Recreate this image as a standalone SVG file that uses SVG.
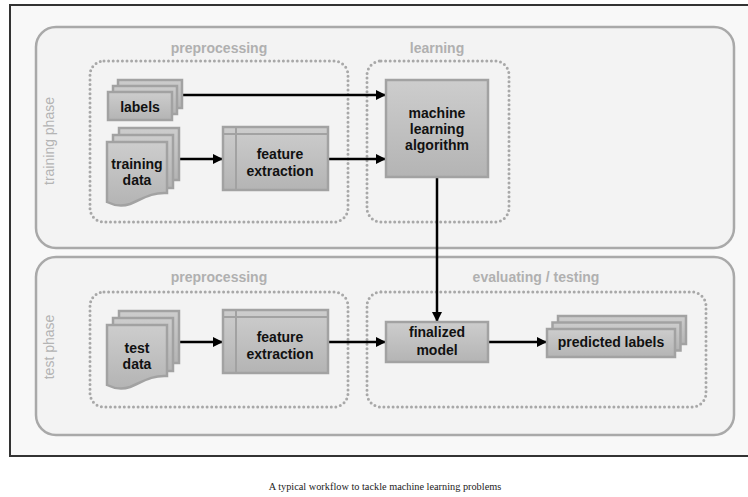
<svg xmlns="http://www.w3.org/2000/svg" width="748" height="497" viewBox="0 0 748 497">
  <defs>
    <linearGradient id="nodeFill" x1="0" y1="0" x2="0" y2="1">
      <stop offset="0" stop-color="#cdcdcd"/>
      <stop offset="1" stop-color="#b4b4b4"/>
    </linearGradient>
    <marker id="arrow" viewBox="0 0 10 10" refX="10" refY="5" markerWidth="4" markerHeight="4" orient="auto" markerUnits="strokeWidth">
      <path d="M0,0 L10,5 L0,10 Z" fill="#000"/>
    </marker>
    <style>
      .frame { fill: #f8f8f8; stroke: #333; stroke-width: 2; }
      .phase { fill: #f3f3f3; stroke: #a9a9a9; stroke-width: 2.5; }
      .group { fill: none; stroke: #a8a8a8; stroke-width: 3; stroke-dasharray: 0 4.6; stroke-linecap: round; }
      .node { fill: url(#nodeFill); stroke: #a2a2a2; stroke-width: 2.5; }
      .inner { stroke: #a2a2a2; stroke-width: 2; }
      .lbl { font-family: "Liberation Sans", Arial, sans-serif; font-weight: bold; font-size: 14px; fill: #111; text-anchor: middle; }
      .glbl { font-family: "Liberation Sans", Arial, sans-serif; font-weight: bold; font-size: 14px; fill: #b0b0b0; text-anchor: middle; }
      .plbl { font-family: "Liberation Sans", Arial, sans-serif; font-size: 14px; fill: #b4b4b4; text-anchor: middle; }
      .cap { font-family: "Liberation Serif", "Times New Roman", serif; font-size: 10.3px; fill: #222; text-anchor: middle; }
      .conn { stroke: #000; stroke-width: 2.5; fill: none; }
    </style>
  </defs>

  <rect x="0" y="0" width="748" height="497" fill="#ffffff"/>

  <!-- outer frame -->
  <rect class="frame" x="10" y="5" width="745" height="451"/>

  <!-- phases -->
  <g id="training-phase">
    <rect class="phase" x="36" y="27" width="698" height="221" rx="20"/>
    <text class="plbl" transform="translate(54,141) rotate(-90)">training phase</text>
  </g>
  <g id="test-phase">
    <rect class="phase" x="36" y="257" width="698" height="178" rx="20"/>
    <text class="plbl" transform="translate(54,347) rotate(-90)">test phase</text>
  </g>

  <!-- stage groups -->
  <g id="train-preprocessing">
    <rect class="group" x="90" y="61" width="258" height="161" rx="14"/>
    <text class="glbl" x="219" y="53">preprocessing</text>
  </g>
  <g id="train-learning">
    <rect class="group" x="367" y="61" width="142" height="161" rx="14"/>
    <text class="glbl" x="437" y="53">learning</text>
  </g>
  <g id="test-preprocessing">
    <rect class="group" x="90" y="292" width="258" height="115" rx="14"/>
    <text class="glbl" x="219" y="282">preprocessing</text>
  </g>
  <g id="test-evaluating">
    <rect class="group" x="367" y="292" width="339" height="115" rx="14"/>
    <text class="glbl" x="536" y="282">evaluating / testing</text>
  </g>

  <!-- connectors -->
  <g id="connectors">
    <line class="conn" x1="182" y1="95" x2="386" y2="95" marker-end="url(#arrow)"/>
    <line class="conn" x1="180" y1="159" x2="223" y2="159" marker-end="url(#arrow)"/>
    <line class="conn" x1="328" y1="159" x2="386" y2="159" marker-end="url(#arrow)"/>
    <line class="conn" x1="437" y1="177" x2="437" y2="322" marker-end="url(#arrow)"/>
    <line class="conn" x1="180" y1="342" x2="223" y2="342" marker-end="url(#arrow)"/>
    <line class="conn" x1="328" y1="342" x2="386" y2="342" marker-end="url(#arrow)"/>
    <line class="conn" x1="488" y1="342" x2="547" y2="342" marker-end="url(#arrow)"/>
  </g>

  <!-- training nodes -->
  <g id="labels">
    <rect class="node" x="118" y="80" width="64" height="28"/>
    <rect class="node" x="113" y="86" width="64" height="28"/>
    <rect class="node" x="108" y="92" width="64" height="28"/>
    <text class="lbl" x="140" y="112">labels</text>
  </g>
  <g id="training-data">
    <rect class="node" x="119" y="128" width="60" height="52"/>
    <rect class="node" x="113" y="135" width="60" height="53"/>
    <path class="node" d="M107,142 H167 V193 C152,192 142,199 130,204 C121,207 113,205 107,202 Z"/>
    <text class="lbl" x="137" y="169">training</text>
    <text class="lbl" x="137" y="185">data</text>
  </g>
  <g id="train-feature-extraction">
    <rect class="node" x="223" y="127" width="105" height="63"/>
    <line class="inner" x1="224" y1="134" x2="327" y2="134"/>
    <line class="inner" x1="236" y1="128" x2="236" y2="189"/>
    <text class="lbl" x="280" y="159">feature</text>
    <text class="lbl" x="280" y="176">extraction</text>
  </g>
  <g id="ml-algorithm">
    <rect class="node" x="386" y="80" width="102" height="97"/>
    <text class="lbl" x="437" y="118">machine</text>
    <text class="lbl" x="437" y="134">learning</text>
    <text class="lbl" x="437" y="150">algorithm</text>
  </g>

  <!-- test nodes -->
  <g id="test-data">
    <rect class="node" x="119" y="311" width="60" height="52"/>
    <rect class="node" x="113" y="318" width="60" height="53"/>
    <path class="node" d="M107,325 H167 V376 C152,375 142,382 130,387 C121,390 113,388 107,385 Z"/>
    <text class="lbl" x="137" y="353">test</text>
    <text class="lbl" x="137" y="369">data</text>
  </g>
  <g id="test-feature-extraction">
    <rect class="node" x="223" y="310" width="105" height="63"/>
    <line class="inner" x1="224" y1="317" x2="327" y2="317"/>
    <line class="inner" x1="236" y1="311" x2="236" y2="372"/>
    <text class="lbl" x="280" y="342">feature</text>
    <text class="lbl" x="280" y="359">extraction</text>
  </g>
  <g id="finalized-model">
    <rect class="node" x="386" y="322" width="102" height="40"/>
    <text class="lbl" x="437" y="337">finalized</text>
    <text class="lbl" x="437" y="355">model</text>
  </g>
  <g id="predicted-labels">
    <rect class="node" x="558" y="316" width="128" height="28"/>
    <rect class="node" x="552.5" y="322.5" width="128" height="28"/>
    <rect class="node" x="547" y="329" width="128" height="28"/>
    <text class="lbl" x="611" y="347">predicted labels</text>
  </g>

  <!-- caption -->
  <text class="cap" x="385" y="490">A typical workflow to tackle machine learning problems</text>
</svg>
